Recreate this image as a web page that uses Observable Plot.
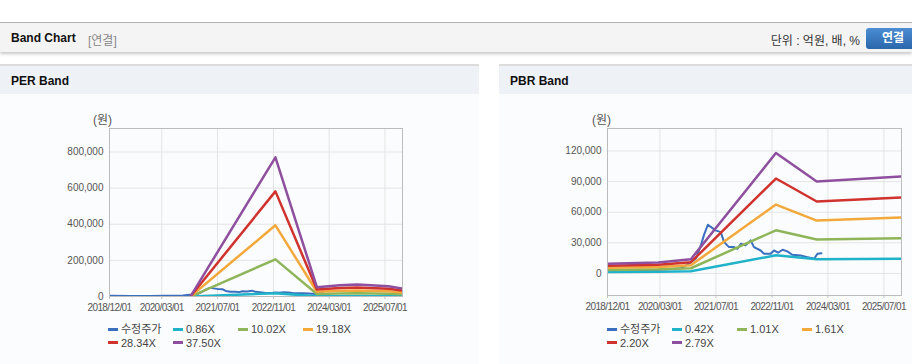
<!DOCTYPE html>
<html>
<head>
<meta charset="utf-8">
<script src="https://cdn.jsdelivr.net/npm/d3@7"></script>
<script src="https://cdn.jsdelivr.net/npm/@observablehq/plot@0.6"></script>
<style>
  html, body { margin: 0; padding: 0; }
  body { width: 912px; height: 364px; overflow: hidden; background: #fff; position: relative;
         font-family: "Liberation Sans", Arial, "Noto Sans CJK KR", sans-serif; }
  .abs { position: absolute; }
  .topline { left: 0; top: 22px; width: 912px; height: 1px; background: #b4b4b4; }
  .hdr { left: 0; top: 23px; width: 912px; height: 29px; background: #f4f4f4;
         box-shadow: 0 2px 3px rgba(0,0,0,0.22); }
  .hdr-title { left: 11px; top: 31px; font-size: 12px; font-weight: bold; color: #111; white-space: nowrap; }
  .hdr-sub { left: 88px; top: 31px; font-size: 12px; color: #888; white-space: nowrap; }
  .hdr-unit { right: 52px; top: 31px; font-size: 12px; color: #333; white-space: nowrap; }
  .btn { left: 866px; top: 28px; width: 54px; height: 21px; border-radius: 3px;
         background: linear-gradient(#4c8dd3, #2b66ab); color: #fff; font-weight: bold; font-size: 12px;
         line-height: 21px; padding-left: 16px; box-sizing: border-box; white-space: nowrap; }
  .panel { top: 64px; height: 298px; background: #fbfcfd; border-top: 2px solid #dcdcdc; border-bottom: 1px solid #e2e2e2; }
  .panel-hdr { left: 0; top: 0; right: 0; height: 28px; background: #eef2f7; }
  .panel-title { left: 11px; top: 8px; font-size: 12px; font-weight: bold; color: #111; white-space: nowrap; }
  .unit { font-size: 12px; color: #555; white-space: nowrap; }
  .leg { font-size: 11px; color: #444; white-space: nowrap; height: 13px; line-height: 13px; }
  .leg i { display: inline-block; width: 10px; height: 3px; vertical-align: middle; margin-right: 3px; position: relative; top: -1px; }
  svg g[aria-label="x-axis tick label"] text { letter-spacing: -0.6px; }
</style>
</head>
<body>
<div class="abs topline"></div>
<div class="abs hdr"></div>
<div class="abs hdr-title">Band Chart</div>
<div class="abs hdr-sub">[연결]</div>
<div class="abs hdr-unit">단위 : 억원, 배, %</div>
<div class="abs btn">연결</div>

<div class="abs panel" id="perPanel" style="left:0;width:479px;">
  <div class="abs panel-hdr"></div>
  <div class="abs panel-title">PER Band</div>
</div>
<div class="abs panel" id="pbrPanel" style="left:499px;width:413px;">
  <div class="abs panel-hdr"></div>
  <div class="abs panel-title">PBR Band</div>
</div>

<div class="abs unit" style="left:93px;top:110px;">(원)</div>
<div class="abs unit" style="left:592px;top:110px;">(원)</div>

<div id="perChart" class="abs" style="left:0;top:100px;"></div>
<div id="pbrChart" class="abs" style="left:499px;top:100px;"></div>
<div id="perLegend"></div>
<div id="pbrLegend"></div>

<script>
// ---------- data ----------
const xTickDates = ["2018-12-01", "2020-03-01", "2021-07-01", "2022-11-01", "2024-03-01", "2025-07-01"];
const perYTicks = [0, 200000, 400000, 600000, 800000];
const pbrYTicks = [0, 30000, 60000, 90000, 120000];

const perLabels = ["수정주가", "0.86X", "10.02X", "19.18X", "28.34X", "37.50X"];
const pbrLabels = ["수정주가", "0.42X", "1.01X", "1.61X", "2.20X", "2.79X"];
const seriesColors = ["#3a6fbf", "#20b2c8", "#8fb55a", "#f3a83c", "#d0322d", "#8f4f9f"];

// 수정주가 (adjusted price), shared by both charts
const priceDates = ["2018-12-01", "2019-06-01", "2019-12-01", "2020-04-01", "2020-09-01", "2020-11-25",
  "2021-01-10", "2021-02-20", "2021-03-20", "2021-04-22", "2021-06-28", "2021-08-12", "2021-09-10",
  "2021-10-23", "2021-12-06", "2022-01-05", "2022-02-03", "2022-03-16", "2022-04-29", "2022-05-28",
  "2022-07-25", "2022-08-23", "2022-10-20", "2022-11-18", "2022-12-23", "2023-02-01", "2023-03-14",
  "2023-04-26", "2023-07-08", "2023-09-05", "2023-11-02", "2023-12-01", "2024-01-05"];
const priceValues = [3500, 3200, 3000, 3900, 5000, 11100,
  15000, 27500, 38000, 47700, 42200, 40500, 30700,
  25800, 25800, 24200, 29100, 27500, 32400, 25800,
  22500, 19300, 19300, 22500, 20300, 23200, 21600,
  18300, 17600, 16000, 14400, 19300, 19900];

// PER band
const perDates = ["2020-11-10", "2022-11-18", "2023-11-15", "2024-06-01", "2024-11-01", "2025-08-01", "2025-12-01"];
const per086 = [100, 17700, 1200, 1400, 1500, 1300, 1000];
const per1002 = [1000, 205700, 13800, 16600, 17600, 15200, 11800];
const per1918 = [2000, 394000, 26400, 31700, 33800, 29200, 22500];
const per2834 = [3000, 582000, 39100, 46900, 49900, 43100, 33300];
const per3750 = [4000, 770000, 51700, 62000, 66000, 57000, 44000];

// PBR band
const pbrDates = ["2018-12-01", "2020-02-15", "2020-11-25", "2022-12-05", "2023-11-25", "2025-12-01"];
const pbr042 = [1500, 1700, 2100, 17800, 14000, 14400];
const pbr101 = [3500, 4000, 5100, 42300, 33300, 34500];
const pbr161 = [5500, 6300, 8000, 67500, 51800, 54800];
const pbr220 = [7500, 8500, 11000, 93000, 70500, 74500];
const pbr279 = [9500, 10800, 14000, 118000, 90000, 95000];

// ---------- build ----------
const parse = d3.utcParse("%Y-%m-%d");
const xTicks = xTickDates.map(parse);
function rows(dates, values, series) {
  return dates.map((d, i) => ({date: parse(d), value: values[i], series}));
}

function makeChart({labels, bandDates, bands, yDomain, yTicks, width, marginLeft, marginRight, marginBottom}) {
  const priceRows = rows(priceDates, priceValues, labels[0]);
  const bandRows = bands.flatMap((vals, i) => rows(bandDates, vals, labels[i + 1]));
  return Plot.plot({
    width, height: 220,
    marginLeft, marginRight, marginTop: 28, marginBottom,
    style: {background: "transparent", fontFamily: "'Liberation Sans', Arial, sans-serif", fontSize: "10px", color: "#555", overflow: "visible"},
    x: {type: "utc", domain: [parse("2018-12-01"), parse("2025-12-01")]},
    y: {domain: yDomain},
    color: {domain: labels, range: seriesColors},
    marks: [
      Plot.gridX({ticks: xTicks, stroke: "#e4e4e4", strokeOpacity: 1}),
      Plot.gridY({ticks: yTicks, stroke: "#e4e4e4", strokeOpacity: 1}),
      Plot.axisY({ticks: yTicks, tickSize: 0, tickPadding: 6, tickFormat: d3.format(","), fill: "#555", label: null, fontSize: 10}),
      Plot.axisX({ticks: xTicks, tickSize: 3, tickPadding: 4, stroke: "#c4c4c4", tickFormat: d3.utcFormat("%Y/%m/%d"), fill: "#555", label: null, fontSize: 10}),
      Plot.line(priceRows, {x: "date", y: "value", stroke: "series", strokeWidth: 2, clip: true}),
      Plot.line(bandRows, {x: "date", y: "value", z: "series", stroke: "series", strokeWidth: 2.5, clip: true}),
      Plot.frame({stroke: "#bcbcbc"})
    ]
  });
}

document.getElementById("perChart").append(makeChart({
  labels: perLabels, bandDates: perDates, bands: [per086, per1002, per1918, per2834, per3750],
  yDomain: [0, 930000], yTicks: perYTicks, width: 479, marginLeft: 109, marginRight: 77, marginBottom: 24
}));
document.getElementById("pbrChart").append(makeChart({
  labels: pbrLabels, bandDates: pbrDates, bands: [pbr042, pbr101, pbr161, pbr220, pbr279],
  yDomain: [-21600, 142000], yTicks: pbrYTicks, width: 413, marginLeft: 108, marginRight: 11, marginBottom: 25
}));

function legend(id, labels, left) {
  const el = document.getElementById(id);
  labels.forEach((lab, i) => {
    const d = document.createElement("div");
    d.className = "abs leg";
    d.style.left = (left + (i % 4) * 65) + "px";
    d.style.top = (323 + Math.floor(i / 4) * 13.5) + "px";
    d.innerHTML = `<i style="background:${seriesColors[i]}"></i>${lab}`;
    el.append(d);
  });
}
legend("perLegend", perLabels, 108);
legend("pbrLegend", pbrLabels, 607);
</script>
</body>
</html>
